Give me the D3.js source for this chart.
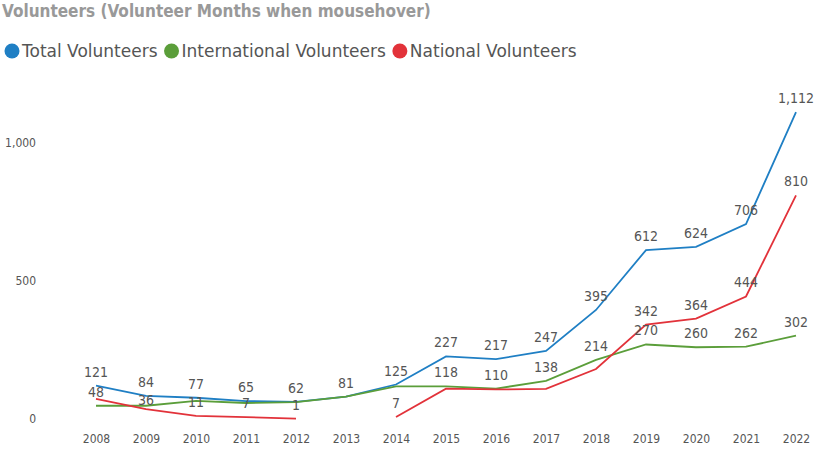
<!DOCTYPE html>
<html>
<head>
<meta charset="utf-8">
<script src="https://cdn.jsdelivr.net/npm/d3@7"></script>
<style>
body { margin: 0; background: #fff; font-family: "DejaVu Sans Condensed", "DejaVu Sans", sans-serif; }
</style>
</head>
<body>
<div id="chart"></div>
<script>
// data
var years = [2008, 2009, 2010, 2011, 2012, 2013, 2014, 2015, 2016, 2017, 2018, 2019, 2020, 2021, 2022];
var totalVolunteers = [121, 84, 77, 65, 62, 81, 125, 227, 217, 247, 395, 612, 624, 706, 1112];
var internationalVolunteers = [48, 48, 66, 58, 61, 81, 118, 118, 110, 138, 214, 270, 260, 262, 302];
var nationalVolunteers = [73, 36, 11, 7, 1, null, 7, 110, 107, 109, 181, 342, 364, 444, 810];
// which points carry a visible label
var internationalLabelYears = [2008, 2015, 2016, 2017, 2018, 2019, 2020, 2021, 2022];
var nationalLabelYears = [2009, 2010, 2011, 2012, 2014, 2019, 2020, 2021, 2022];
var yTicks = [0, 500, 1000];

var series = [
    { name: "Total Volunteers", values: totalVolunteers, color: "#1f7fc4", labels: years },
    { name: "International Volunteers", values: internationalVolunteers, color: "#5b9e3a", labels: internationalLabelYears },
    { name: "National Volunteers", values: nationalVolunteers, color: "#e2323a", labels: nationalLabelYears }
];

var svgWidth = 815, svgHeight = 452;
var svg = d3.select("#chart").append("svg")
    .attr("width", svgWidth)
    .attr("height", svgHeight);

// title
svg.append("text")
    .attr("x", 2).attr("y", 17)
    .attr("font-size", "17px")
    .attr("font-weight", "bold")
    .attr("fill", "#999")
    .text("Volunteers (Volunteer Months when mousehover)");

// legend
var lx = 4;
series.forEach(function(s) {
    var g = svg.append("g").attr("transform", `translate(${lx}, 51)`);
    g.append("circle").attr("cx", 8).attr("cy", 0).attr("r", 7.5).attr("fill", s.color);
    var t = g.append("text").attr("x", 18).attr("y", 6)
        .attr("font-size", "17px").attr("fill", "#555")
        .style("font-family", "'DejaVu Sans', sans-serif").text(s.name);
    lx += 18 + t.node().getComputedTextLength() + 6;
});

var x = d3.scalePoint().domain(years).range([96, 796]);
var y = d3.scaleLinear().domain([0, 1000]).range([419, 143]);

// axes
var xAxis = svg.append("g").attr("transform", "translate(0, 419)")
    .call(d3.axisBottom(x).tickSize(0).tickPadding(15));
xAxis.select(".domain").remove();
xAxis.selectAll("text").attr("font-size", "12px").attr("fill", "#555")
    .style("font-family", "'DejaVu Sans Condensed', sans-serif");

var yAxis = svg.append("g").attr("transform", "translate(36, 0)")
    .call(d3.axisLeft(y).tickValues(yTicks).tickSize(0).tickPadding(0).tickFormat(d3.format(",")));
yAxis.select(".domain").remove();
yAxis.selectAll("text").attr("font-size", "12px").attr("fill", "#555")
    .style("font-family", "'DejaVu Sans Condensed', sans-serif");

var line = d3.line()
    .defined(d => d.v != null)
    .x(d => x(d.year))
    .y(d => y(d.v));

series.forEach(function(s) {
    var pts = years.map((yr, i) => ({ year: yr, v: s.values[i] }));
    svg.append("path").datum(pts)
        .attr("d", line)
        .attr("fill", "none")
        .attr("stroke", s.color)
        .attr("stroke-width", 1.8);
});

// data labels; push a label below the total label when they would collide
series.forEach(function(s, si) {
    var pts = years.map((yr, i) => ({ year: yr, v: s.values[i], i: i }))
        .filter(d => d.v != null && s.labels.indexOf(d.year) >= 0);
    svg.selectAll(null).data(pts).enter().append("text")
        .attr("x", d => x(d.year))
        .attr("y", function(d) {
            var ly = y(d.v) - 9;
            if (si > 0) {
                var ty = y(totalVolunteers[d.i]) - 9;
                if (Math.abs(ly - ty) < 16) ly = ty + 18;
            }
            return ly;
        })
        .attr("text-anchor", "middle")
        .attr("font-size", "14px")
        .attr("fill", "#555")
        .style("font-family", "'DejaVu Sans Condensed', sans-serif")
        .text(d => d3.format(",")(d.v));
});
</script>
</body>
</html>
